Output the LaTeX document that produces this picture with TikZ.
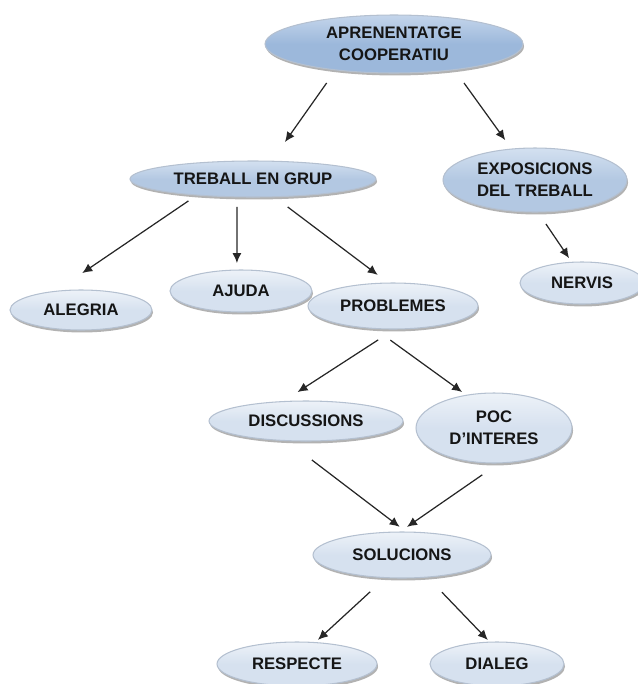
\documentclass[tikz,border=0pt]{standalone}
\usepackage{fontspec}
\setmainfont{Liberation Sans}
\usepackage{xcolor}
\usepackage{tikz}
\usetikzlibrary{arrows.meta,shadows,shapes.geometric}
\definecolor{ink}{HTML}{151515}
\definecolor{rim}{HTML}{B4C0D0}
\definecolor{deepfill}{HTML}{9CB8DB}
\definecolor{deeptop}{HTML}{C4D5EB}
\definecolor{midfill}{HTML}{B3C8E2}
\definecolor{midtop}{HTML}{D3E0F0}
\definecolor{paleflll}{HTML}{D6E1EF}
\definecolor{paletop}{HTML}{EDF2F8}
\definecolor{wire}{HTML}{262626}
\tikzset{
  bubble/.style={ellipse, draw=rim, line width=0.6pt, inner sep=0pt, outer sep=0pt,
    text=ink, font=\fontsize{9.5}{12.5}\selectfont\bfseries, align=center,
    drop shadow={shadow xshift=0.6pt, shadow yshift=-1.4pt, fill=black!55, opacity=0.55}},
  topbubble/.style={bubble, top color=deeptop, bottom color=deepfill, middle color=deepfill},
  midbubble/.style={bubble, top color=midtop, bottom color=midfill, middle color=midfill},
  leafbubble/.style={bubble, top color=paletop, bottom color=paleflll, middle color=paleflll},
  conn/.style={draw=wire, line width=0.7pt, -{Latex[length=2mm,width=1.8mm]}},
}
\begin{document}
\begin{tikzpicture}[x=0.02cm, y=-0.02cm]
  \useasboundingbox (0,0) rectangle (638,684);
  % concept nodes, placed on the pixel grid of the map
  \node[topbubble, minimum width=5.16cm, minimum height=1.16cm] (apren) at (394,44) {APRENENTATGE\\COOPERATIU};
  \node[midbubble, minimum width=4.92cm, minimum height=0.72cm] (treb) at (253,179) {TREBALL EN GRUP};
  \node[midbubble, minimum width=3.68cm, minimum height=1.28cm] (expo) at (535,180) {EXPOSICIONS\\DEL TREBALL};
  \node[leafbubble, minimum width=2.84cm, minimum height=0.80cm] (aleg) at (81,310) {ALEGRIA};
  \node[leafbubble, minimum width=2.84cm, minimum height=0.84cm] (ajud) at (241,291) {AJUDA};
  \node[leafbubble, minimum width=3.40cm, minimum height=0.92cm] (prob) at (393,306) {PROBLEMES};
  \node[leafbubble, minimum width=2.48cm, minimum height=0.84cm] (nerv) at (582,283) {NERVIS};
  \node[leafbubble, minimum width=3.88cm, minimum height=0.80cm] (disc) at (306,421) {DISCUSSIONS};
  \node[leafbubble, minimum width=3.12cm, minimum height=1.40cm] (poc) at (494,428) {POC\\D'INTERES};
  \node[leafbubble, minimum width=3.56cm, minimum height=0.92cm] (solu) at (402,555) {SOLUCIONS};
  \node[leafbubble, minimum width=3.20cm, minimum height=0.88cm] (resp) at (297,664) {RESPECTE};
  \node[leafbubble, minimum width=2.68cm, minimum height=0.88cm] (dial) at (497,664) {DIALEG};
  % arrows float free of the bubbles, hence the shortening
  \draw[conn, shorten <=0.32cm, shorten >=0.47cm] (apren.204) -- (treb.44);
  \draw[conn, shorten <=0.33cm, shorten >=0.22cm] (apren.337) -- (expo.127);
  \draw[conn, shorten <=0.21cm, shorten >=0.65cm] (treb.196) -- (aleg.144);
  \draw[conn, shorten <=0.20cm, shorten >=0.14cm] (treb.228) -- (ajud.101);
  \draw[conn, shorten <=0.34cm, shorten >=0.27cm] (treb.320) -- (prob.101);
  \draw[conn, shorten <=0.29cm, shorten >=0.10cm] (expo.275) -- (nerv.116);
  \draw[conn, shorten <=0.40cm, shorten >=0.35cm] (prob.275) -- (disc.140);
  \draw[conn, shorten <=0.40cm, shorten >=0.11cm] (prob.230) -- (poc.130);
  \draw[conn, shorten <=0.64cm, shorten >=0.17cm] (disc.225) -- (solu.79);
  \draw[conn, shorten <=0.42cm, shorten >=0.18cm] (poc.279) -- (solu.96);
  \draw[conn, shorten <=0.42cm, shorten >=0.08cm] (solu.234) -- (resp.50);
  \draw[conn, shorten <=0.42cm, shorten >=0.06cm] (solu.319) -- (dial.108);
\end{tikzpicture}
\end{document}
